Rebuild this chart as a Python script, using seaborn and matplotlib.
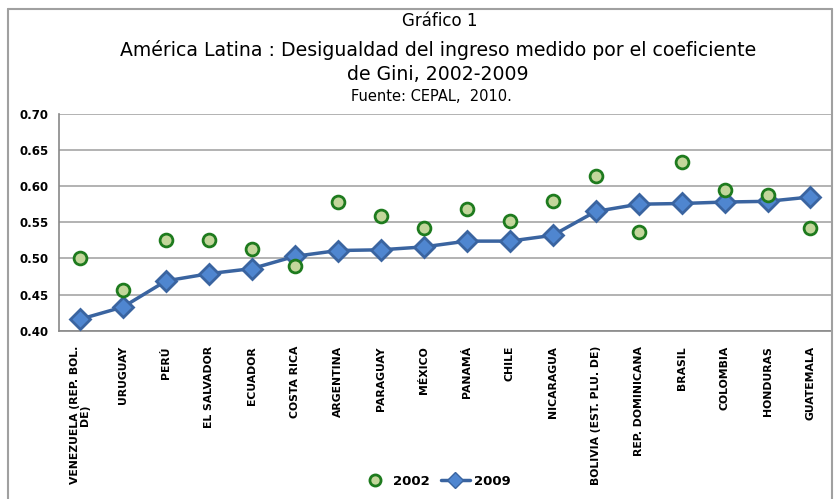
import pandas as pd
import matplotlib.pyplot as plt
import seaborn as sns
from matplotlib.lines import Line2D

# datos
paises = ['VENEZUELA (REP. BOL.\nDE)', 'URUGUAY', 'PERÚ', 'EL SALVADOR', 'ECUADOR',
          'COSTA RICA', 'ARGENTINA', 'PARAGUAY', 'MÉXICO', 'PANAMÁ', 'CHILE',
          'NICARAGUA', 'BOLIVIA (EST. PLU. DE)', 'REP. DOMINICANA', 'BRASIL',
          'COLOMBIA', 'HONDURAS', 'GUATEMALA']
gini_2002 = [0.500, 0.456, 0.525, 0.525, 0.513, 0.489, 0.578, 0.559, 0.542,
             0.568, 0.552, 0.580, 0.614, 0.537, 0.634, 0.595, 0.588, 0.542]
gini_2009 = [0.416, 0.433, 0.469, 0.479, 0.486, 0.503, 0.511, 0.512, 0.516,
             0.524, 0.524, 0.532, 0.565, 0.575, 0.576, 0.578, 0.579, 0.585]
y_ticks = [0.40, 0.45, 0.50, 0.55, 0.60, 0.65, 0.70]

df = pd.DataFrame({'pos': range(len(paises)), 'pais': paises,
                   '2002': gini_2002, '2009': gini_2009})

sns.set_style('white')
plt.rcParams['font.family'] = ['DejaVu Sans']
plt.rcParams['text.color'] = 'black'
plt.rcParams['xtick.color'] = 'black'
plt.rcParams['ytick.color'] = 'black'

fig = plt.figure(figsize=(8.37, 4.99), dpi=100)
ax = fig.add_axes([0.070, 0.337, 0.924, 0.435])

verde_fill, verde_borde = '#c3d69b', '#1e7b1e'
azul_linea, azul_fill = '#3a64a0', '#4f86d0'

sns.lineplot(data=df, x='pos', y='2009', ax=ax, color=azul_linea, linewidth=2.5,
             marker='D', markersize=10, markerfacecolor=azul_fill,
             markeredgecolor=azul_linea, markeredgewidth=2, zorder=3)
sns.scatterplot(data=df, x='pos', y='2002', ax=ax, s=85, color=verde_fill,
                edgecolor=verde_borde, linewidth=2, zorder=4)

ax.set_xlim(-0.5, len(paises) - 0.5)
ax.set_ylim(0.40, 0.70)
ax.set_yticks(y_ticks)
ax.set_yticklabels([f'{v:.2f}' for v in y_ticks], fontsize=8.5, fontweight='bold')
ax.yaxis.grid(True, color='#a6a6a6', linewidth=1.2)
ax.set_axisbelow(True)

ax.set_xticks(range(len(paises)))
ax.set_xticklabels(paises, rotation=90, fontsize=7.8, fontweight='bold',
                   va='top', ha='center', linespacing=0.9)
ax.set_xticks([i + 0.5 for i in range(-1, len(paises))], minor=True)
ax.tick_params(axis='x', which='major', length=0, pad=11)
ax.tick_params(axis='x', which='minor', length=4, color='#888888', direction='out')
ax.tick_params(axis='y', length=4, color='#888888', direction='out', pad=3)
ax.set_xlabel('')
ax.set_ylabel('')

for lado in ['top', 'right']:
    ax.spines[lado].set_visible(False)
for lado in ['left', 'bottom']:
    ax.spines[lado].set_color('#888888')
    ax.spines[lado].set_linewidth(1.2)

# titulo en cuatro lineas
fig.text(0.525, 0.957, 'Gráfico 1', ha='center', va='center', fontsize=12)
fig.text(0.523, 0.9, 'América Latina : Desigualdad del ingreso medido por el coeficiente',
         ha='center', va='center', fontsize=13.6)
fig.text(0.523, 0.851, 'de Gini, 2002-2009', ha='center', va='center', fontsize=13.6)
fig.text(0.516, 0.806, 'Fuente: CEPAL,  2010.', ha='center', va='center', fontsize=10.5)

handles = [Line2D([], [], linestyle='none', marker='o', markersize=8,
                  markerfacecolor=verde_fill, markeredgecolor=verde_borde, markeredgewidth=2),
           Line2D([], [], color=azul_linea, linewidth=2.5, marker='D', markersize=8,
                  markerfacecolor=azul_fill, markeredgecolor=azul_linea)]
fig.legend(handles, ['2002', '2009'], loc='center', bbox_to_anchor=(0.52, 0.036),
           ncol=2, frameon=False, prop={'weight': 'bold', 'size': 9.5},
           handlelength=2.2, columnspacing=0.8, handletextpad=0.3)

# marco exterior (arriba, izquierda, derecha)
marco = dict(color='#a0a0a0', linewidth=1.5, transform=fig.transFigure)
fig.add_artist(Line2D([0.009, 0.994], [0.982, 0.982], **marco))
fig.add_artist(Line2D([0.009, 0.009], [0.0, 0.982], **marco))
fig.add_artist(Line2D([0.994, 0.994], [0.0, 0.982], **marco))

fig.savefig('out.png', dpi=100)
